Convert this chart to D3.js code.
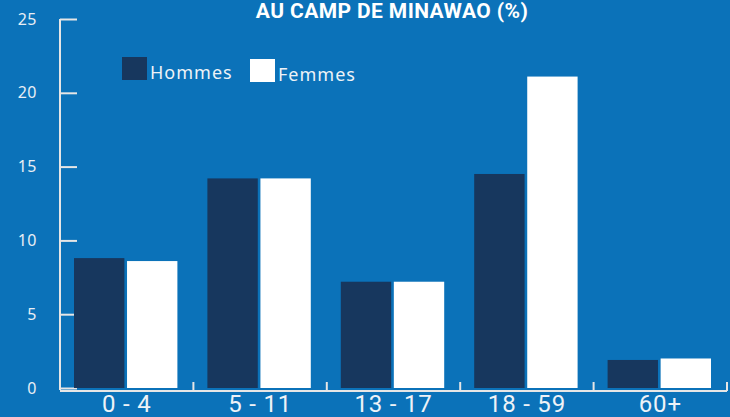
<!DOCTYPE html>
<html lang="fr">
<head>
    <meta charset="UTF-8">
    <title>Camp de Minawao</title>
    <script src="https://d3js.org/d3.v7.min.js"></script>
    <style>
        body {
            margin: 0;
            background: #0b72b9;
            font-family: "Liberation Sans", Arial, sans-serif;
        }
        .axis path, .axis line {
            stroke: #e6e6e6;
            stroke-width: 2;
        }
        .y-axis text {
            fill: #e8eef5;
            font-size: 16px;
            letter-spacing: 0.5px;
            font-family: "Noto Sans", sans-serif;
        }
        .x-axis text {
            fill: #eef2f7;
            font-size: 24px;
            letter-spacing: 0.8px;
            font-family: "Liberation Sans Narrow", "Roboto", sans-serif;
        }
    </style>
</head>
<body>
    <svg width="730" height="417"></svg>

    <script>
        const categories = ["0 - 4", "5 - 11", "13 - 17", "18 - 59", "60+"];
        const seriesNames = ["Hommes", "Femmes"];
        const hommes = [8.8, 14.2, 7.2, 14.5, 1.9];
        const femmes = [8.6, 14.2, 7.2, 21.1, 2.0];
        const yTicks = [0, 5, 10, 15, 20, 25];
        const colors = ["#17375e", "#ffffff"];

        const svg = d3.select("svg");
        const margin = {top: 19, right: 3, bottom: 28, left: 60};
        const width = 730 - margin.left - margin.right;
        const height = 417 - margin.top - margin.bottom;
        const g = svg.append("g").attr("transform", `translate(${margin.left},${margin.top})`);

        const x = d3.scaleBand()
            .domain(categories)
            .range([0, width])
            .paddingInner(0)
            .paddingOuter(0);

        const x1 = d3.scaleBand()
            .domain(seriesNames)
            .range([14, x.bandwidth() - 16])
            .paddingInner(0.05);

        const y = d3.scaleLinear()
            .domain([0, 25])
            .range([height - 1, 0]);

        const data = categories.map((c, i) => ({cat: c, values: [hommes[i], femmes[i]]}));

        // title
        svg.append("text")
            .attr("x", 392)
            .attr("y", 18)
            .attr("text-anchor", "middle")
            .attr("fill", "#ffffff")
            .style("font-size", "21px")
            .style("font-weight", "bold")
            .style("font-family", "Liberation Sans Narrow, Roboto, sans-serif")
            .style("letter-spacing", "0.4px")
            .text("AU CAMP DE MINAWAO (%)");

        // y axis
        const yAxis = g.append("g")
            .attr("class", "axis y-axis")
            .call(d3.axisRight(y).tickValues(yTicks).tickSize(17));
        yAxis.selectAll("text").attr("text-anchor", "end").attr("x", -23);
        yAxis.select(".domain").attr("d", `M0,${y(25)}V${height + 1}`);

        // bars
        g.append("g")
            .selectAll("g")
            .data(data)
            .enter().append("g")
            .attr("transform", d => `translate(${x(d.cat)},0)`)
            .selectAll("rect")
            .data(d => d.values.map((v, i) => ({name: seriesNames[i], value: v})))
            .enter().append("rect")
            .attr("x", d => x1(d.name))
            .attr("width", x1.bandwidth())
            .attr("y", d => y(d.value))
            .attr("height", d => y(0) - y(d.value))
            .attr("fill", (d, i) => colors[i]);

        // x axis
        const xAxis = g.append("g")
            .attr("class", "axis x-axis")
            .attr("transform", `translate(0,${height + 2})`)
            .call(d3.axisBottom(x).tickSize(0).tickPadding(4));
        xAxis.select(".domain").attr("d", `M0,0H${width}`);
        xAxis.selectAll(".tick line").remove();
        xAxis.append("g")
            .selectAll("line")
            .data(categories)
            .enter().append("line")
            .attr("x1", d => x(d) + x.bandwidth())
            .attr("x2", d => x(d) + x.bandwidth())
            .attr("y1", 0)
            .attr("y2", -9);

        // legend
        const legendPos = [[122, 57, 150], [250, 59, 278]];
        const legend = svg.append("g");
        seriesNames.forEach((n, i) => {
            legend.append("rect")
                .attr("x", legendPos[i][0])
                .attr("y", legendPos[i][1])
                .attr("width", 25)
                .attr("height", 23)
                .attr("fill", colors[i]);
            legend.append("text")
                .attr("x", legendPos[i][2])
                .attr("y", legendPos[i][1] + 22)
                .attr("fill", "#eef2f7")
                .style("font-size", "18px")
                .style("letter-spacing", "1px")
                .style("font-family", "Noto Sans, sans-serif")
                .text(n);
        });
    </script>
</body>
</html>
